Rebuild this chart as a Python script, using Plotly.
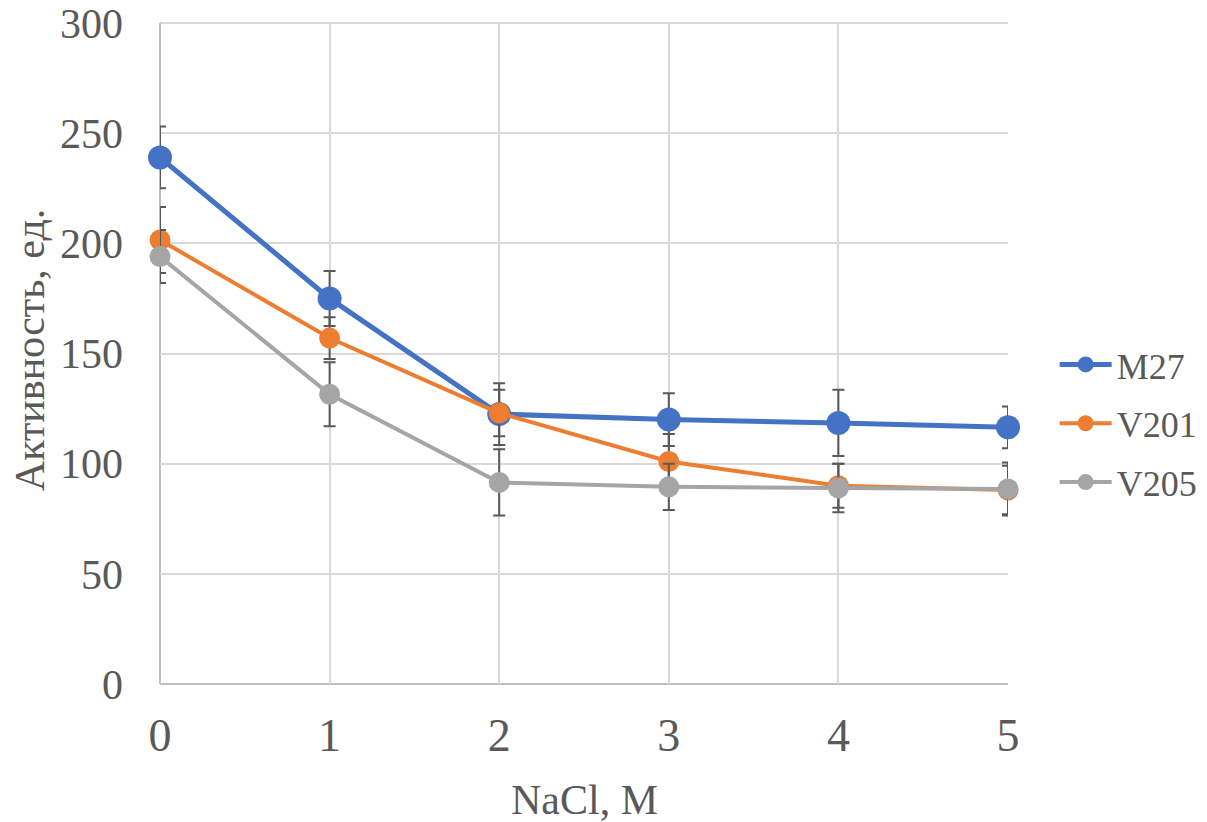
import plotly.graph_objects as go

x_vals = [0, 1, 2, 3, 4, 5]
series_names = ["M27", "V201", "V205"]
m27 = [239, 175, 122.5, 120, 118.5, 116.5]
m27_err = [14, 12.5, 14, 12, 15, 9.5]
v201 = [201.5, 157, 123, 101, 90, 88]
v201_err = [15, 9.5, 10.5, 12.5, 10, 11]
v205 = [194, 131.5, 91.5, 89.5, 89, 88.5]
v205_err = [12, 14.5, 15, 10.5, 11, 12]
y_ticks = [0, 50, 100, 150, 200, 250, 300]
x_title = "NaCl, M"
y_title = "Активность, ед."

colors = ["#4472C4", "#ED7D31", "#A5A5A5"]
widths = [5, 4, 4]
msizes = [24, 21, 21]
data = [(m27, m27_err), (v201, v201_err), (v205, v205_err)]

fig = go.Figure()
for i, (name, (vals, errs)) in enumerate(zip(series_names, data)):
    fig.add_trace(go.Scatter(
        x=x_vals, y=vals, name=name, mode="lines+markers",
        line=dict(color=colors[i], width=widths[i]),
        marker=dict(color=colors[i], size=msizes[i]),
        error_y=dict(type="data", array=errs, visible=True,
                     color="#595959", thickness=2, width=6),
        cliponaxis=False, legendgroup=name,
    ))

font_family = "Liberation Serif, Times New Roman, serif"
fig.update_layout(
    width=1207, height=822,
    margin=dict(l=160, r=199, t=23, b=138, autoexpand=False),
    paper_bgcolor="white", plot_bgcolor="white",
    font=dict(family=font_family, color="#595959"),
    showlegend=True,
    legend=dict(
        x=1.055, y=0.394, xanchor="left", yanchor="middle",
        font=dict(size=36, family=font_family, color="#595959"),
        tracegroupgap=9, itemwidth=52, bgcolor="rgba(0,0,0,0)",
    ),
    xaxis=dict(
        range=[0, 5], tickvals=x_vals, showgrid=True, automargin=False,
        gridcolor="#d9d9d9", gridwidth=2, zeroline=False,
        showline=False, ticks="", ticklabeloverflow="allow",
        tickfont=dict(size=46, family=font_family, color="#595959"),
        ticklabelstandoff=20,
    ),
    yaxis=dict(
        range=[0, 300], tickvals=y_ticks, showgrid=True, automargin=False,
        gridcolor="#d9d9d9", gridwidth=2, zeroline=False,
        showline=False, ticks="", ticklabeloverflow="allow",
        tickfont=dict(size=42, family=font_family, color="#595959"),
        ticklabelstandoff=36,
    ),
    annotations=[
        dict(text=x_title, xref="paper", yref="paper", x=0.5, y=-0.1755,
             xanchor="center", yanchor="middle", showarrow=False,
             font=dict(size=42, family=font_family, color="#595959")),
        dict(text=y_title, xref="paper", yref="paper", x=-0.1533, y=0.505,
             xanchor="center", yanchor="middle", showarrow=False, textangle=-90,
             font=dict(size=42, family=font_family, color="#595959")),
    ],
)
# top gridline at the plot's upper edge (paper refs are not clipped), and axis lines
fig.add_shape(type="line", xref="paper", yref="paper", x0=0, x1=1, y0=1, y1=1,
              line=dict(color="#d9d9d9", width=2), layer="below")
fig.add_shape(type="line", xref="paper", yref="paper", x0=0, x1=0, y0=0, y1=1,
              line=dict(color="#bfbfbf", width=2), layer="below")
fig.add_shape(type="line", xref="paper", yref="paper", x0=0, x1=1, y0=0, y1=0,
              line=dict(color="#bfbfbf", width=2), layer="below")

fig.write_html(
    "out.html",
    config={"displayModeBar": False},
    post_script="document.body.style.margin='0';document.body.style.overflow='hidden';",
)
